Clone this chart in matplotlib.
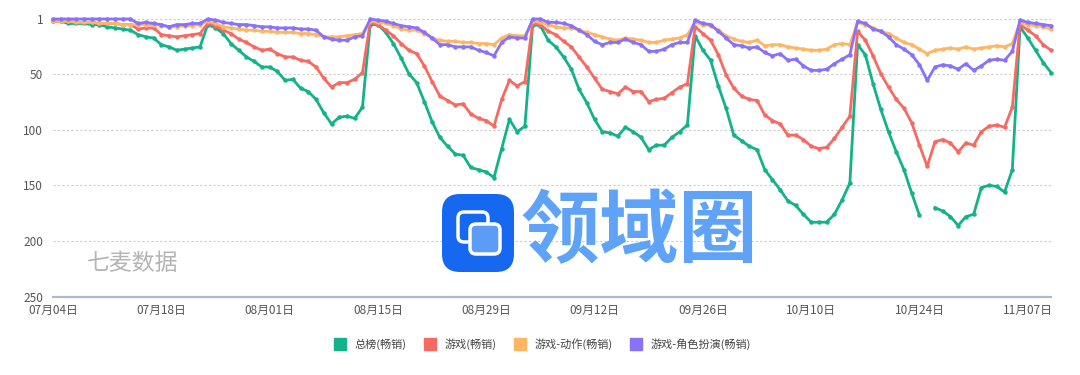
import numpy as np
import pandas as pd
import matplotlib
matplotlib.use("Agg")
import matplotlib.pyplot as plt
from matplotlib.lines import Line2D
from matplotlib.patches import FancyBboxPatch

plt.rcParams['font.family'] = ['Noto Sans CJK SC', 'DejaVu Sans']

# dates: 07-04 .. 11-10, one point per day
dates = pd.date_range('2023-07-04', periods=130, freq='D')
date_labels = [f"{d.month:02d}月{d.day:02d}日" for d in dates]

series_names = ['总榜(畅销)', '游戏(畅销)', '游戏-动作(畅销)', '游戏-角色扮演(畅销)']
series_colors = ['#12b28a', '#f76a62', '#ffb664', '#8a71fa']

# rank values (nan = no data)
zong_bang = [3, 3, 5, 5, 5, 6, 6, 8, 9, 10, 11, 15, 17, 18, 24, 26, 29, 28, 27, 26, 6,
             9, 14, 23, 29, 35, 39, 44, 44, 48, 56, 55, 63, 66, 73, 85, 95, 89, 88, 90, 80, 6,
             6, 13, 23, 36, 50, 58, 75, 93, 107, 115, 122, 123, 134, 136, 138, 143, 117, 91, 102, 97, 6,
             7, 20, 26, 35, 46, 64, 76, 91, 102, 103, 106, 98, 102, 107, 118, 114, 114, 107, 102, 96, 16,
             29, 38, 61, 81, 105, 110, 115, 118, 136, 145, 154, 164, 168, 176, 183, 183, 183, 176, 163, 148, 24,
             33, 59, 82, 102, 120, 136, 157, 177, np.nan, 170, 173, 178, 186, 178, 176, 152, 150, 151, 156, 136, 8,
             18, 29, 40, 49]
youxi = [3, 3, 3, 4, 4, 4, 5, 5, 5, 6, 6, 10, 9, 9, 15, 16, 17, 16, 15, 14, 5,
         7, 11, 14, 19, 22, 26, 29, 28, 32, 35, 35, 38, 39, 44, 54, 62, 58, 58, 55, 49, 4,
         6, 11, 16, 23, 29, 32, 43, 57, 70, 74, 78, 77, 86, 90, 92, 97, 73, 56, 61, 57, 5,
         6, 12, 15, 21, 26, 35, 44, 54, 64, 66, 68, 62, 66, 66, 75, 73, 72, 67, 62, 59, 8,
         14, 20, 33, 51, 63, 70, 73, 74, 87, 92, 95, 105, 105, 109, 115, 117, 116, 108, 98, 88, 12,
         20, 34, 50, 62, 73, 81, 94, 114, 133, 111, 109, 112, 120, 112, 114, 102, 97, 96, 98, 80, 6,
         11, 16, 24, 29]
dongzuo = [3, 3, 3, 4, 4, 4, 5, 5, 5, 6, 6, 6, 6, 6, 7, 8, 8, 7, 7, 6, 3,
           5, 8, 9, 10, 11, 11, 12, 12, 13, 13, 13, 14, 14, 15, 17, 17, 17, 16, 15, 14, 3,
           4, 5, 7, 10, 11, 11, 14, 18, 20, 21, 21, 22, 22, 23, 23, 24, 18, 15, 16, 16, 3,
           4, 6, 8, 9, 9, 11, 13, 15, 17, 19, 20, 18, 19, 20, 22, 22, 20, 19, 18, 15, 4,
           6, 7, 11, 16, 19, 21, 22, 20, 25, 24, 24, 26, 27, 28, 29, 29, 28, 24, 23, 24, 4,
           6, 9, 12, 14, 18, 22, 24, 28, 32, 29, 28, 27, 28, 26, 28, 27, 26, 25, 26, 23, 4,
           6, 7, 8, 10]
juese = [1, 1, 1, 1, 1, 1, 1, 1, 1, 1, 1, 5, 4, 5, 6, 8, 6, 6, 5, 5, 1,
         2, 4, 5, 6, 6, 7, 8, 8, 9, 9, 9, 10, 10, 11, 17, 19, 20, 20, 17, 16, 1,
         2, 3, 5, 7, 8, 9, 13, 18, 24, 24, 26, 26, 26, 29, 31, 34, 22, 17, 18, 18, 1,
         1, 4, 4, 5, 7, 11, 15, 21, 24, 22, 22, 19, 22, 24, 30, 30, 28, 24, 22, 22, 2,
         5, 6, 12, 18, 24, 25, 27, 26, 31, 34, 32, 38, 37, 43, 47, 47, 46, 41, 37, 33, 3,
         5, 10, 12, 17, 24, 28, 33, 42, 56, 44, 42, 43, 46, 41, 47, 43, 38, 37, 38, 30, 2,
         4, 5, 6, 7]

all_series = [zong_bang, youxi, dongzuo, juese]

fig = plt.figure(figsize=(10.8, 3.75), dpi=100)
ax = fig.add_axes([53 / 1080, 1 - 297 / 375, (1051 - 53) / 1080, (297 - 19) / 375])

x = np.arange(len(dates))
for vals, c in zip(all_series, series_colors):
    ax.plot(x, vals, color=c, lw=2.0, marker='o', markersize=3.2,
            markeredgewidth=0, clip_on=False, zorder=3)

ax.set_xlim(0, len(dates) - 1)
ax.set_ylim(250, 1)
ax.set_yticks([1, 50, 100, 150, 200, 250])
ax.set_xticks(x[::14])
ax.set_xticklabels(date_labels[::14])

ax.yaxis.grid(True, linestyle=(0, (2, 2)), color='#cccccc', lw=0.8)
ax.set_axisbelow(True)
for s in ['left', 'top', 'right']:
    ax.spines[s].set_visible(False)
ax.spines['bottom'].set_color('#b4b8c6')
ax.spines['bottom'].set_linewidth(1.6)
ax.tick_params(axis='both', length=0, labelsize=8.5, colors='#555555')
ax.tick_params(axis='y', pad=7)
ax.tick_params(axis='x', pad=5)

# legend
handles = [Line2D([], [], marker='s', ls='none', markersize=9, color=c) for c in series_colors]
fig.legend(handles, series_names, loc='center', bbox_to_anchor=(0.5, 1 - 344 / 375),
           ncol=4, frameon=False, fontsize=8, handletextpad=0.3, columnspacing=1.1,
           labelcolor='#444444')

# watermarks
ov = fig.add_axes([0, 0, 1, 1], facecolor='none')
ov.set_xlim(0, 1080)
ov.set_ylim(375, 0)
ov.axis('off')
ov.text(87, 263, '七麦数据', fontsize=16.5, color='#b4b4b4', va='center', ha='left')
ov.add_patch(FancyBboxPatch((442, 194), 72, 78, boxstyle='round,pad=0,rounding_size=18',
                            fc='#1768f0', ec='none', zorder=5))
ov.add_patch(FancyBboxPatch((458, 212), 30, 30, boxstyle='round,pad=0,rounding_size=6',
                            fc='none', ec='white', lw=2.5, zorder=6))
ov.add_patch(FancyBboxPatch((470, 224), 30, 30, boxstyle='round,pad=0,rounding_size=6',
                            fc='#5d9cf6', ec='white', lw=2.5, zorder=7))
ov.text(520, 233, '领域圈', fontsize=57, color='#5ea3f7', weight='bold',
        va='center', ha='left', zorder=6)

fig.savefig('out.png', dpi=100)
